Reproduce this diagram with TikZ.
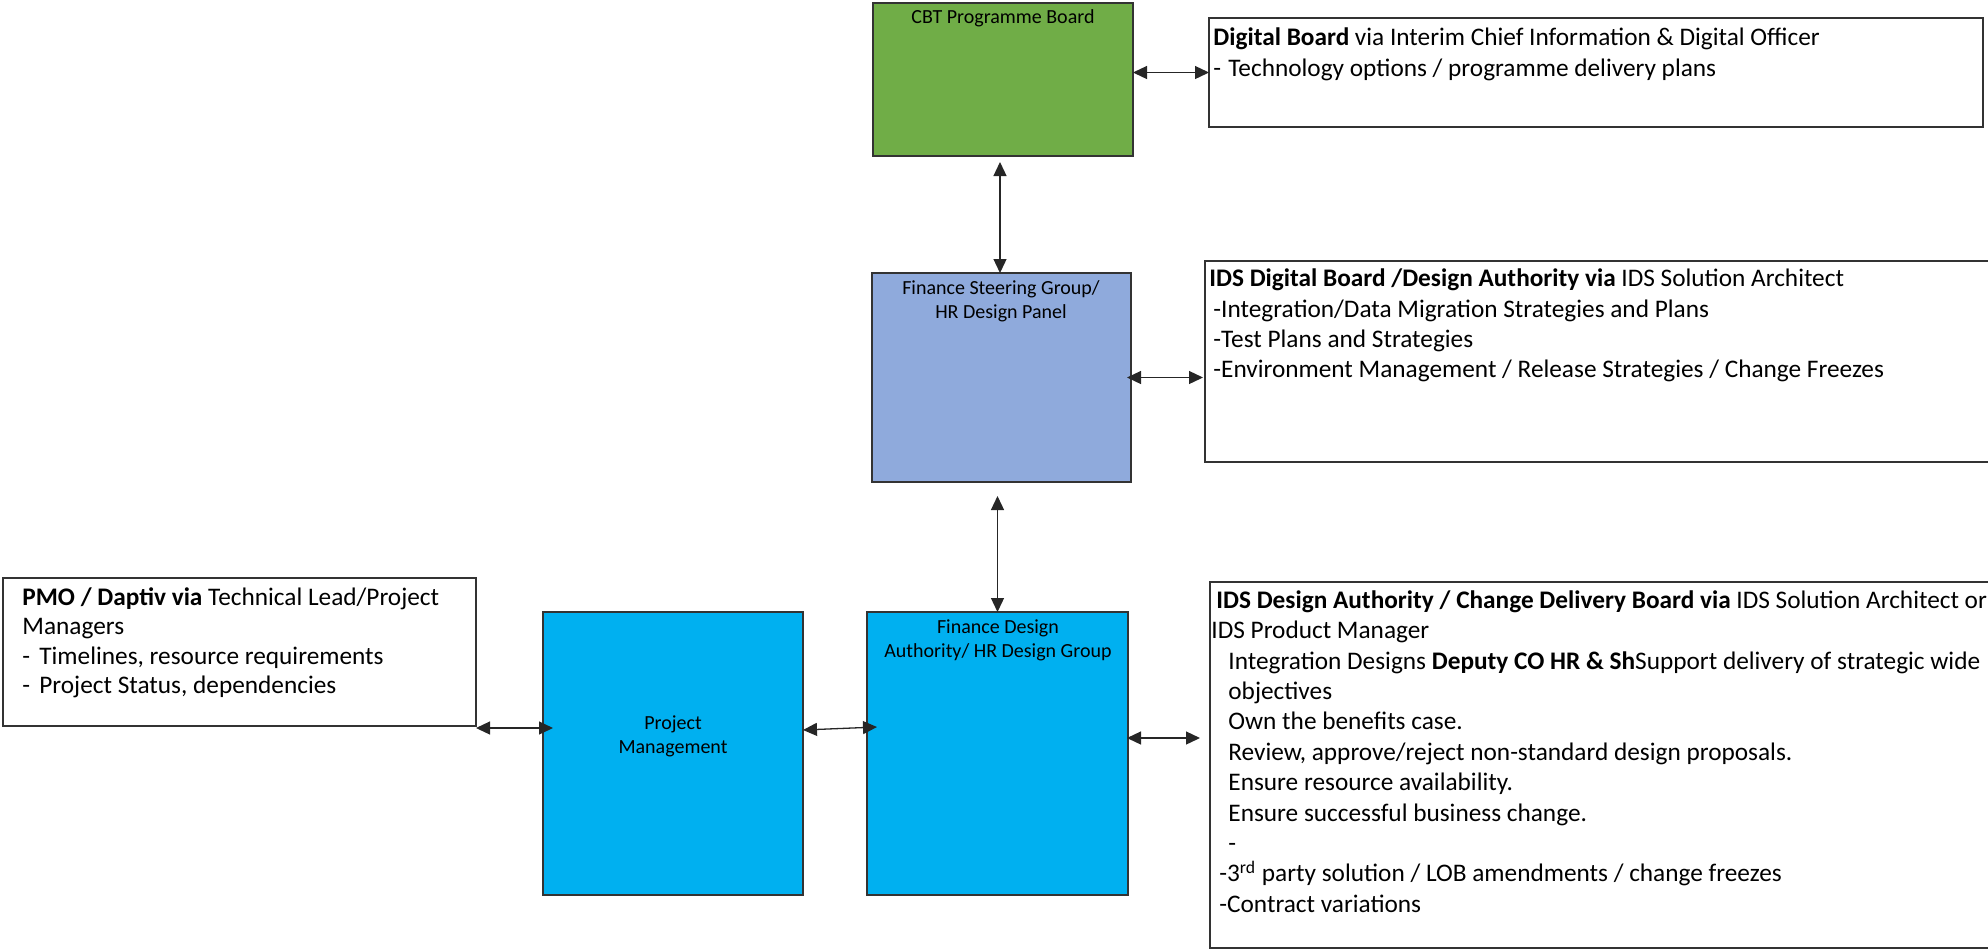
\documentclass[tikz,border=0pt]{standalone}
\usepackage{fontspec}
\setmainfont{Carlito}
\usetikzlibrary{arrows.meta,calc}

\definecolor{boardgreen}{HTML}{70AD47}
\definecolor{panelblue}{HTML}{8FAADC}
\definecolor{groupcyan}{HTML}{00B0F0}
\definecolor{edgegray}{HTML}{333333}

\tikzset{
  box/.style={draw=edgegray, line width=0.6pt, rectangle, anchor=north west,
    inner sep=0pt, outer sep=0pt},
  lbl/.style={anchor=north, inner sep=0pt, align=center,
    font=\fontsize{10}{12}\selectfont},
  notes/.style={anchor=north west, inner sep=0pt, align=left,
    font=\fontsize{12.65}{15.2}\selectfont},
  biarrow/.style={{Triangle[length=7pt,width=6.5pt]}-{Triangle[length=7pt,width=6.5pt]},
    line width=0.65pt, draw=black!85},
}

\begin{document}
\begin{tikzpicture}[x=0.5pt, y=-0.5pt]
\useasboundingbox (0,0) rectangle (1988,949);

% governance boxes
\node[box, fill=boardgreen, minimum width=130pt, minimum height=76.5pt] (cbt) at (873,3) {};
\node[box, fill=panelblue, minimum width=129.5pt, minimum height=104.5pt] (steer) at (872,273) {};
\node[box, fill=groupcyan, minimum width=130pt, minimum height=141.5pt] (pm) at (543,612) {};
\node[box, fill=groupcyan, minimum width=130.5pt, minimum height=141.5pt] (fda) at (867,612) {};

% side note boxes
\node[box, fill=white, minimum width=387pt, minimum height=54.5pt] (digital) at (1209,18) {};
\node[box, fill=white, minimum width=395pt, minimum height=100.5pt] (idsdig) at (1205,261) {};
\node[box, fill=white, minimum width=236.5pt, minimum height=74pt] (pmo) at (3,578) {};
\node[box, fill=white, minimum width=392.5pt, minimum height=183pt] (idsda) at (1210,582) {};

% box titles
\node[lbl] (cbtlbl) at (1003,6.6) {\strut CBT Programme Board};
\node[lbl] (steerlbl) at (1001,277.6) {\strut Finance Steering Group/\\HR Design Panel};
\node[lbl] (fdalbl) at (998,616.6) {\strut Finance Design\\Authority/ HR Design Group};
\node[lbl] (pmlbl) at (673,712.6) {\strut Project\\Management};

% note texts
\node[notes] (digitaltxt) at (1213,24) {\strut\textbf{Digital Board} via Interim Chief Information \& Digital Officer\\
\makebox[7.5pt][l]{-}Technology options / programme delivery plans};

\node[notes] (idsdigtxt) at (1209,265) {\strut\textbf{IDS Digital Board /Design Authority via} IDS Solution Architect\\
\hspace*{2pt}-Integration/Data Migration Strategies and Plans\\
\hspace*{2pt}-Test Plans and Strategies\\
\hspace*{2pt}-Environment Management / Release Strategies / Change Freezes};

\node[notes, font=\fontsize{12.65}{14.65}\selectfont] (pmotxt) at (22,584.5) {\strut\textbf{PMO / Daptiv via} Technical Lead/Project\\
Managers\\
\makebox[8.5pt][l]{-}Timelines, resource requirements\\
\makebox[8.5pt][l]{-}Project Status, dependencies};

\node[notes] (idsdatxt) at (1211,586.7) {\strut\hspace*{2.5pt}\textbf{IDS Design Authority / Change Delivery Board via} IDS Solution Architect or\\
IDS Product Manager\\
\hspace*{8.5pt}Integration Designs \textbf{Deputy CO HR \& Sh}Support delivery of strategic wide\\
\hspace*{8.5pt}objectives\\
\hspace*{8.5pt}Own the benefits case.\\
\hspace*{8.5pt}Review, approve/reject non-standard design proposals.\\
\hspace*{8.5pt}Ensure resource availability.\\
\hspace*{8.5pt}Ensure successful business change.\\
\hspace*{8.5pt}-\\
\hspace*{4pt}-3\textsuperscript{rd} party solution / LOB amendments / change freezes\\
\hspace*{4pt}-Contract variations};

% two-way links
\draw[biarrow] (digital.west -| cbt.east) -- (digital.west);
\draw[biarrow, shorten <=3pt] ([xshift=-1.5pt]cbt.south) -- ([xshift=-1.5pt]cbt.south |- steer.north);
\draw[biarrow] ([xshift=-2pt]steer.east) -- ([xshift=-1pt]steer.east -| idsdig.west);
\draw[biarrow] ([yshift=-7pt]steer.south -| fda.north) -- (fda.north);
\draw[biarrow] ([yshift=-1pt]pmo.south east) -- ([yshift=-1pt,xshift=5pt]pmo.south east -| pm.west);
\draw[biarrow] ([yshift=11.75pt]pm.east) -- ([xshift=5pt,yshift=13.25pt]fda.west);
\draw[biarrow] ([yshift=7.75pt,xshift=-0.5pt]fda.east) -- ([yshift=7.75pt,xshift=-5pt]fda.east -| idsda.west);
\end{tikzpicture}
\end{document}
